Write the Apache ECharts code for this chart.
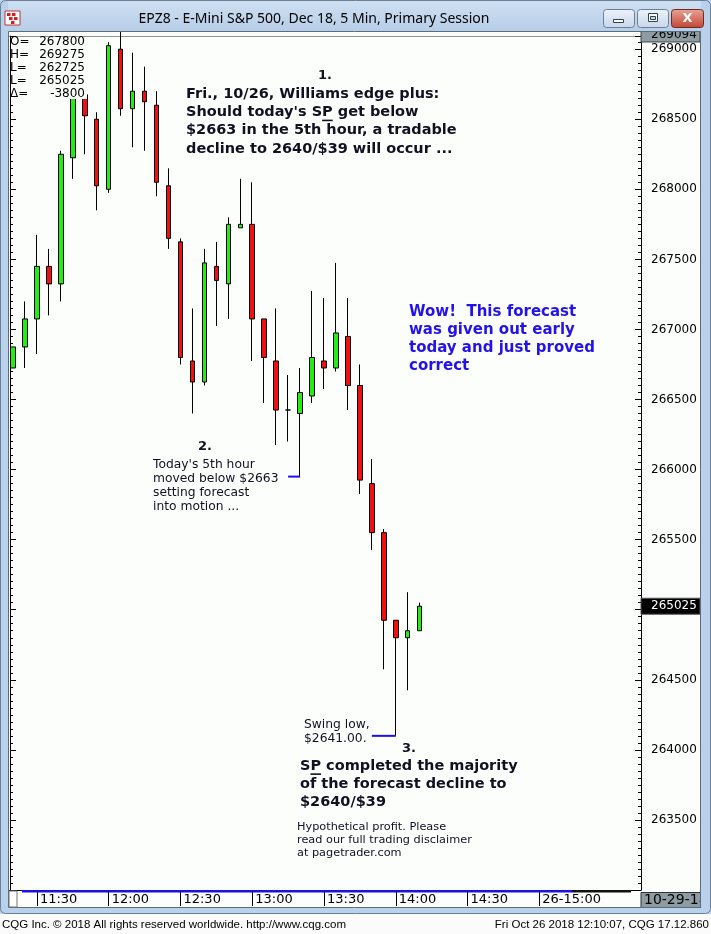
<!DOCTYPE html>
<html><head><meta charset="utf-8">
<script src="https://cdn.jsdelivr.net/npm/echarts@6/dist/echarts.min.js"></script>
<style>html,body{margin:0;padding:0;background:#fff;overflow:hidden}#c{width:711px;height:934px}</style>
</head><body><div id="c"></div>
<script>
// ---------- data ----------
const times = ['11:20','11:25','11:30','11:35','11:40','11:45','11:50','11:55',
  '12:00','12:05','12:10','12:15','12:20','12:25','12:30','12:35','12:40','12:45','12:50','12:55',
  '13:00','13:05','13:10','13:15','13:20','13:25','13:30','13:35','13:40','13:45','13:50','13:55',
  '14:00','14:05','14:10','14:15','14:20','14:25','14:30','14:35','14:40','14:45','14:50','14:55',
  '15:00','15:05','15:10','15:15','15:20','15:25','15:30','15:35','15:40'];
const opens  = [266725,266875,267075,267450,267325,268225,268675,268500,268000,269000,268575,268700,268600,268025,267625,266775,266625,267450,267325,267725,267750,267075,266775,266425,266400,266525,266775,266725,266950,266600,265900,265550,264925,264800,264850];
const closes = [266875,267075,267450,267325,268250,268700,268525,268025,269025,268575,268700,268625,268050,267650,266800,266625,267475,267350,267750,267750,267075,266800,266425,266425,266550,266800,266725,266975,266600,265925,265550,264925,264800,264850,265025];
const lows   = [266725,266725,266825,267100,267200,268075,268250,267850,267975,268525,268300,268275,267950,267575,266750,266400,266600,267025,267075,267725,266775,266475,266175,266200,265950,266475,266575,266700,266425,265825,265425,264575,264100,264425,264850];
const highs  = [266875,267200,267675,267575,268275,268750,268725,268550,269050,269275,268975,268875,268700,268150,267650,267150,267575,267625,267800,268075,268050,267075,267150,266675,266725,267275,267225,267475,267225,266750,266075,265575,264925,265125,265050];
const timeTicks    = ['11:30','12:00','12:30','13:00','13:30','14:00','14:30','15:00'];
const timeTickText = ['11:30','12:00','12:30','13:00','13:30','14:00','14:30','26-15:00'];
const yMin = 263000, yMax = 269094, yStep = 500;
const infoLabels = ['O=','H=','L=','L=','\u0394='];
const infoValues = ['267800','269275','262725','265025','-3800'];
const dateTag = '10-29-18';
const title = 'EPZ8 - E-Mini S&P 500, Dec 18, 5 Min, Primary Session';
const footL = 'CQG Inc. \u00a9 2018 All rights reserved worldwide. http://www.cqg.com';
const footR = 'Fri Oct 26 2018 12:10:07, CQG 17.12.860';
const note1 = ['Fri., 10/26, Williams edge plus:', "Should today's SP get below", '$2663 in the 5th hour, a tradable', 'decline to 2640/$39 will occur ...'];
const note2 = ["Today's 5th hour", 'moved below $2663', 'setting forecast', 'into motion ...'];
const noteWow = ['Wow!  This forecast', 'was given out early', 'today and just proved', 'correct'];
const noteSwing = ['Swing low,', '$2641.00.'];
const note3 = ['SP completed the majority', 'of the forecast decline to', '$2640/$39'];
const disclaimer = ['Hypothetical profit. Please', 'read our full trading disclaimer', 'at pagetrader.com'];

// ---------- build ----------
const candleData = opens.map((o, i) => [o, closes[i], lows[i], highs[i]]);
const tickMap = {};
timeTicks.forEach((t, i) => { tickMap[t] = timeTickText[i]; });

const GL = 7, GT = 36, GR = 641, GB = 890;
const FONT = '"DejaVu Sans"';
const chart = echarts.init(document.getElementById('c'), null, {width: 711, height: 934});

const yCommon = {
  type: 'value', min: yMin, max: yMax, interval: yStep,
  axisLine: {show: true, lineStyle: {color: '#000', width: 1}},
  axisTick: {show: true, inside: true, length: 6, lineStyle: {color: '#000'}},
  minorTick: {show: true, splitNumber: 10, length: 3, lineStyle: {color: '#000'}},
  splitLine: {show: false}, minorSplitLine: {show: false}
};

chart.setOption({
  animation: false,
  backgroundColor: '#fcfefc',
  grid: {left: GL, top: GT, width: GR - GL, height: GB - GT, containLabel: false},
  xAxis: [{
    type: 'category', data: times, boundaryGap: true, position: 'bottom',
    axisLine: {show: true, lineStyle: {color: '#000', width: 1}},
    axisTick: {show: true, alignWithLabel: true, length: 16, interval: (i, v) => v in tickMap, lineStyle: {color: '#000'}},
    axisLabel: {show: true, interval: (i, v) => v in tickMap, formatter: v => tickMap[v] || '',
      align: 'left', verticalAlign: 'top', margin: 3, padding: [0, 0, 0, 3],
      color: '#000', fontSize: 13, fontFamily: FONT},
    splitLine: {show: false}
  }, {
    type: 'category', data: times, boundaryGap: true, position: 'top',
    axisLine: {show: true, lineStyle: {color: '#8a969c', width: 1}},
    axisTick: {show: false}, axisLabel: {show: false}, splitLine: {show: false}
  }],
  yAxis: [Object.assign({}, yCommon, {
    position: 'right',
    axisLabel: {show: true, showMinLabel: false, showMaxLabel: false, margin: 10, color: '#000', fontSize: 12, fontFamily: FONT,
      formatter: v => String(v)}
  }), Object.assign({}, yCommon, {
    position: 'left', offset: -3, axisLabel: {show: false}
  })],
  series: [{
    type: 'candlestick', xAxisIndex: 0, yAxisIndex: 0, data: candleData, barWidth: 5, clip: true,
    itemStyle: {color: '#22ee11', color0: '#f01010', borderColor: '#000', borderColor0: '#000', borderWidth: 1}
  }]
});

// ---------- overlays ----------
const mctx = document.createElement('canvas').getContext('2d');
function tw(s, font) { mctx.font = font; return mctx.measureText(s).width; }
function txt(x, y, s, font, fill, align, z) {
  return {type: 'text', z: z || 15, silent: true, style: {text: s, x: x, y: y, font: font, fill: fill,
    align: align || 'left', textAlign: align || 'left', verticalAlign: 'middle', textVerticalAlign: 'middle'}};
}
function lines(x, y0, lh, arr, font, fill) { return arr.map((s, i) => txt(x, y0 + i * lh, s, font, fill)); }
function uline(x, y, prefix, ch, font, size, color) {
  const a = x + tw(prefix, font), b = a + tw(ch, font);
  return {type: 'line', z: 15, silent: true, shape: {x1: a, y1: y + size * 0.56, x2: b, y2: y + size * 0.56}, style: {stroke: color, lineWidth: 1.6}};
}
function rect(x, y, w, h, fill, stroke, z, r) {
  return {type: 'rect', z: z || 20, silent: true, shape: {x: x, y: y, width: w, height: h, r: r || 0}, style: {fill: fill || 'none', stroke: stroke || 'none', lineWidth: 1}};
}
function px(i, v) { return chart.convertToPixel({xAxisIndex: 0, yAxisIndex: 0}, [i, v]); }

const DARK = '#111122';
const BOLD = 'bold 14.5px ' + FONT;
const BOLDB = 'bold 15px ' + FONT;
const BOLD13 = 'bold 13px ' + FONT;
const REG = '12px ' + FONT;
const NOTE = '12.3px ' + FONT;
const SMALL = '11.3px ' + FONT;
const BLUE = '#2412ee';
const FRAME = '#b9d1ea';

const g = [];
// info box
g.push(rect(11, 37, 76, 62, '#fcfefc', null, 12));
infoLabels.forEach((s, i) => {
  g.push(txt(10, 42 + i * 13, s, REG, '#000', 'left', 13));
  g.push(txt(85, 42 + i * 13, infoValues[i], REG, '#000', 'right', 13));
});

// annotations
g.push(txt(325, 76, '1.', BOLD13, DARK, 'center'));
g.push(...lines(186, 94, 18.3, note1, BOLD, DARK));
g.push(uline(186, 94 + 18.3, "Should today's S", 'P', BOLD, 14.5, DARK));
g.push(txt(205, 447, '2.', BOLD13, DARK, 'center'));
g.push(...lines(153, 465, 14, note2, NOTE, DARK));
g.push(...lines(409, 312, 18, noteWow, BOLDB, BLUE));
g.push(...lines(304, 725, 14, noteSwing, NOTE, DARK));
g.push(txt(409, 749, '3.', BOLD13, DARK, 'center'));
g.push(...lines(300, 766, 18, note3, BOLD, DARK));
g.push(uline(300, 766, 'S', 'P', BOLD, 14.5, DARK));
g.push(...lines(297, 827, 13, disclaimer, SMALL, DARK));

// connector lines tied to the data
const pA1 = px(23, lows[24]), pA2 = px(24, lows[24]);
g.push({type: 'line', z: 14, silent: true, shape: {x1: pA1[0], y1: pA1[1], x2: pA2[0], y2: pA2[1]}, style: {stroke: '#1a10f0', lineWidth: 2}});
const pB1 = px(30, lows[32]), pB2 = px(32, lows[32]);
g.push({type: 'line', z: 14, silent: true, shape: {x1: pB1[0], y1: pB1[1], x2: pB2[0], y2: pB2[1]}, style: {stroke: '#1a10f0', lineWidth: 2}});

// last price box
const last = px(closes.length - 1, closes[closes.length - 1]);
g.push(rect(GR, last[1] - 8, 59, 16, '#000', '#555', 16));
g.push(txt(GR + 10, last[1], String(closes[closes.length - 1]), REG, '#fff', 'left', 17));
// max price box (top)
g.push(rect(GR, 31, 59, 11, '#8d9ba2', '#444', 16));
g.push(txt(GR + 10, 35, String(yMax), REG, '#000', 'left', 17));

// bottom session bar and date tag
g.push(rect(22, GB, 550, 2.5, '#1c10e8', null, 16));
g.push(rect(572, GB, 59, 2.5, '#111', null, 16));
g.push(rect(9, GB + 1, 8, 16, '#fff', '#777', 16));
g.push(rect(GR, 892.5, 62, 15, '#8d9ba2', '#333', 16));
g.push(txt(GR + 3, 900, dateTag, '14px ' + FONT, '#000', 'left', 17));

// window chrome
g.push({type: 'rect', z: 20, silent: true, shape: {x: 0, y: 0, width: 711, height: 31},
  style: {fill: new echarts.graphic.LinearGradient(0, 0, 0, 1, [{offset: 0, color: '#cfe0f2'}, {offset: 1, color: '#b7cee8'}])}});
g.push(rect(0, 0, 8, 913, FRAME, null, 20));
g.push(rect(701, 0, 10, 913, FRAME, null, 20));
g.push(rect(0, 908, 711, 6, FRAME, null, 20));
g.push(rect(0, 914, 711, 20, '#fbfbfb', null, 20));
g.push(rect(8.5, 31.5, 692, 876, null, '#5d6c7c', 21));
g.push(rect(0.5, 0.5, 710, 913, null, '#6b7f96', 21, 5));
// icon
g.push(rect(5, 11, 15, 14, '#ffffff', '#c03030', 21));
[[7,13],[12,13],[9,17],[14,17],[11,21]].forEach(p => g.push(rect(p[0], p[1], 3.5, 3, '#d42020', null, 22)));
g.push(txt(314, 19, title, '14px "Noto Sans"', '#000', 'center', 22));
// buttons
const btnGrad = () => new echarts.graphic.LinearGradient(0, 0, 0, 1, [{offset: 0, color: '#eef3fa'}, {offset: 1, color: '#c6d6ea'}]);
g.push({type: 'rect', z: 21, silent: true, shape: {x: 603.5, y: 9.5, width: 31, height: 18, r: 3}, style: {fill: btnGrad(), stroke: '#6a7f9a'}});
g.push({type: 'rect', z: 21, silent: true, shape: {x: 637.5, y: 9.5, width: 31, height: 18, r: 3}, style: {fill: btnGrad(), stroke: '#6a7f9a'}});
g.push({type: 'rect', z: 21, silent: true, shape: {x: 671.5, y: 9.5, width: 32, height: 18, r: 3},
  style: {fill: new echarts.graphic.LinearGradient(0, 0, 0, 1, [{offset: 0, color: '#e8a497'}, {offset: 1, color: '#c34434'}]), stroke: '#6e2b22'}});
g.push(rect(613.5, 19.5, 10, 3, '#fff', '#33414f', 22));
g.push(rect(648.5, 13.5, 9, 8, '#fff', '#33414f', 22));
g.push(rect(650.5, 16.5, 5, 3, '#c6d6ea', '#33414f', 23));
g.push(txt(687.5, 18.5, 'X', 'bold 13px "DejaVu Sans"', '#fff', 'center', 22));
// footer
g.push(txt(2, 925, footL, '11.5px "Liberation Sans"', '#000', 'left', 22));
g.push(txt(709, 925, footR, '11.5px "Liberation Sans"', '#000', 'right', 22));

chart.setOption({graphic: {elements: g}});
</script></body></html>
